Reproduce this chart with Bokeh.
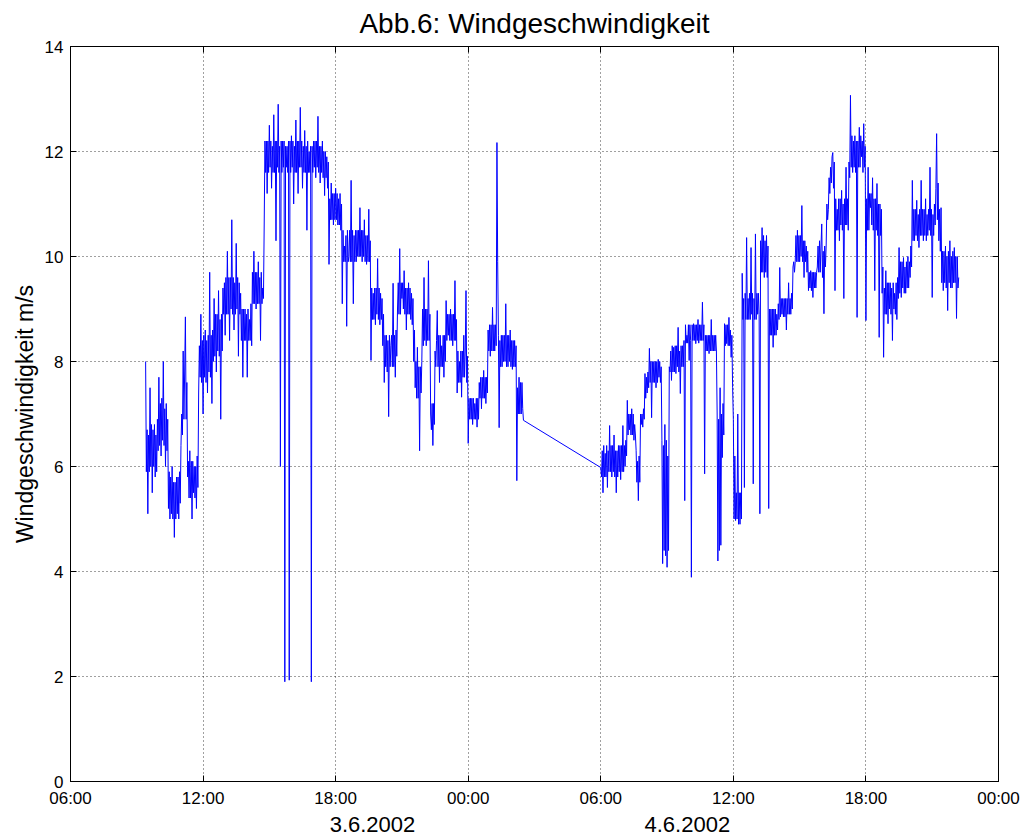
import pandas as pd
from bokeh.plotting import figure
from bokeh.models import (Range1d, FixedTicker, DatetimeTickFormatter, LinearAxis,
                          CustomJSTickFormatter, CustomLabelingPolicy, ColumnDataSource)
from bokeh.embed import file_html
from bokeh.resources import INLINE

title_text = "Abb.6: Windgeschwindigkeit"
y_label = "Windgeschwindigkeit m/s"
date_labels = ["3.6.2002", "4.6.2002"]
date_label_times = ["2002-06-03 19:40", "2002-06-04 09:55"]
y_ticks = [0, 2, 4, 6, 8, 10, 12, 14]

# wind speed samples (m/s), logged every 2 minutes
seg1_start = "2002-06-03 09:24"
speed_seg1 = [
    8.0, 5.9, 6.7, 5.1, 6.6, 5.9, 7.5, 6.0, 6.8, 5.5, 6.7, 6.0,
    6.8, 5.8, 6.6, 5.9, 6.9, 6.3, 7.7, 6.4, 7.2, 6.2, 7.3, 6.5,
    8.0, 6.4, 7.1, 6.0, 7.2, 6.3, 6.9, 5.2, 5.9, 5.0, 5.8, 5.1,
    6.0, 5.0, 5.7, 4.65, 5.7, 5.0, 5.8, 5.1, 5.8, 5.0, 5.9, 5.3,
    6.4, 7.0, 6.6, 8.2, 6.9, 7.8, 8.85, 6.9, 7.6, 5.8, 6.1, 5.4,
    6.3, 5.4, 6.1, 5.0, 6.1, 5.5, 6.0, 5.4, 6.0, 5.2, 6.2, 5.6,
    7.4, 8.3, 7.7, 8.9, 7.6, 8.4, 7.0, 8.5, 7.7, 8.6, 7.6, 8.4,
    7.4, 8.5, 7.8, 9.7, 7.7, 8.5, 7.2, 8.6, 8.0, 9.2, 8.1, 8.9,
    7.8, 8.9, 8.2, 9.35, 8.1, 8.8, 6.9, 8.9, 8.2, 9.4, 8.9, 9.5,
    8.5, 9.6, 8.9, 10.1, 8.9, 9.6, 8.4, 9.6, 9.0, 10.7, 8.9, 9.6,
    8.6, 9.5, 8.9, 10.25, 9.0, 9.6, 8.1, 9.5, 8.9, 9.3, 8.4, 9.0,
    7.7, 9.0, 8.4, 9.0, 8.4, 8.9, 7.7, 9.0, 8.4, 8.8, 8.4, 9.1,
    8.3, 9.7, 9.1, 10.1, 9.1, 9.7, 9.0, 9.7, 9.1, 9.9, 9.1, 9.6,
    8.4, 9.7, 9.1, 9.4, 9.2, 10.6, 12.2, 11.6, 12.2, 11.2, 12.2, 11.6,
    12.5, 11.7, 12.2, 11.3, 12.1, 11.6, 12.7, 11.6, 12.2, 10.3, 12.2, 11.7,
    12.9, 11.6, 12.1, 6.0, 12.2, 11.6, 12.2, 11.7, 12.2, 1.9, 12.1, 11.7,
    12.1, 11.6, 12.2, 1.93, 12.2, 11.6, 12.3, 11.7, 12.2, 11.0, 12.1, 11.6,
    12.6, 11.6, 12.2, 11.2, 12.2, 11.7, 12.84, 11.7, 12.2, 11.3, 12.1, 11.6,
    12.4, 11.6, 12.1, 10.5, 12.2, 11.6, 12.0, 11.6, 12.1, 1.9, 12.1, 11.6,
    12.2, 11.7, 12.2, 11.5, 12.2, 11.7, 12.67, 11.6, 12.1, 11.4, 12.1, 11.6,
    12.2, 11.5, 12.0, 11.16, 12.0, 11.5, 11.9, 11.3, 11.8, 9.85, 11.1, 10.7,
    11.4, 10.7, 11.2, 10.6, 11.2, 10.7, 11.3, 10.7, 11.2, 10.6, 11.1, 10.6,
    11.2, 10.5, 11.0, 9.1, 10.5, 9.9, 10.2, 9.9, 10.4, 8.67, 10.5, 9.9,
    10.0, 10.5, 9.9, 11.45, 9.9, 10.5, 9.1, 10.4, 9.9, 10.5, 9.9, 10.5,
    10.0, 10.5, 10.0, 10.93, 10.0, 10.5, 9.9, 10.5, 10.0, 10.7, 9.9, 10.4,
    9.85, 10.4, 9.9, 10.9, 9.9, 10.3, 8.02, 9.4, 8.8, 9.3, 8.8, 9.4,
    8.7, 9.4, 8.9, 9.96, 8.8, 9.4, 8.7, 9.3, 8.8, 9.2, 8.3, 8.9,
    7.6, 8.5, 7.9, 8.5, 7.8, 8.4, 6.95, 8.5, 7.9, 8.3, 8.5, 7.9,
    9.49, 7.9, 8.5, 7.7, 8.6, 8.1, 9.0, 9.5, 8.9, 10.15, 8.9, 9.5,
    9.2, 9.5, 9.0, 9.73, 8.9, 9.4, 8.6, 9.4, 8.9, 9.5, 8.9, 9.4,
    8.8, 9.3, 8.7, 9.2, 8.0, 8.6, 7.5, 8.0, 7.3, 8.27, 7.3, 7.9,
    6.3, 7.9, 7.4, 8.0, 9.0, 8.3, 9.6, 8.4, 9.0, 8.3, 9.0, 8.4,
    9.92, 8.4, 8.9, 7.0, 6.7, 7.2, 6.4, 7.2, 6.8, 8.2, 7.9, 8.4,
    8.97, 7.9, 8.5, 7.6, 8.5, 7.9, 8.3, 7.9, 8.5, 7.7, 8.5, 8.0,
    9.16, 8.4, 8.9, 8.5, 8.9, 8.4, 9.0, 8.4, 8.9, 8.3, 8.9, 8.4,
    9.54, 8.4, 8.8, 7.4, 8.2, 7.6, 8.0, 7.6, 8.2, 7.32, 8.2, 7.7,
    8.5, 7.7, 8.2, 9.35, 7.6, 8.1, 6.44, 7.3, 6.9, 7.3, 6.9, 7.3,
    6.8, 7.3, 6.9, 7.2, 6.9, 7.3, 6.75, 7.3, 6.9, 7.6, 7.3, 7.7,
    7.1, 7.7, 7.3, 7.83, 7.3, 7.7, 7.2, 7.7, 7.4, 8.6, 8.2, 8.7,
    8.1, 8.7, 8.2, 9.03, 8.2, 8.7, 8.2, 8.7, 8.3, 12.17, 9.9, 8.5,
    6.74, 8.4, 7.9, 8.5, 7.9, 8.5, 8.0, 8.5, 8.0, 9.1, 7.9, 8.5,
    7.9, 8.5, 8.0, 8.6, 7.9, 8.4, 7.85, 8.4, 7.9, 8.4, 7.9, 8.3,
    5.73, 7.5, 7.0, 7.7, 7.0, 7.6, 7.0, 7.6, 7.1, 6.88,
]
seg2_start = "2002-06-04 06:00"
speed_seg2 = [
    5.98, 5.8, 6.3, 5.5, 6.4, 5.8, 6.25, 5.8, 6.4, 5.6, 6.3, 5.9,
    6.78, 5.9, 6.4, 5.8, 6.4, 5.9, 6.6, 5.8, 6.3, 5.5, 6.3, 5.8,
    6.4, 5.9, 6.4, 5.75, 6.4, 5.9, 6.78, 5.9, 6.4, 6.0, 6.5, 6.2,
    7.26, 6.6, 7.0, 6.7, 7.0, 6.6, 7.1, 6.6, 7.0, 6.5, 6.8, 6.6,
    6.3, 5.7, 6.1, 5.35, 6.2, 5.7, 7.0, 6.8, 7.0, 6.75, 7.1, 6.9,
    7.77, 7.3, 7.7, 7.4, 7.8, 7.5, 8.25, 7.6, 8.0, 6.93, 8.0, 7.6,
    8.0, 7.6, 8.0, 7.5, 8.0, 7.6, 8.04, 7.7, 8.0, 7.6, 7.9, 6.5,
    4.15, 6.4, 4.4, 6.8, 4.3, 6.5, 4.08, 6.2, 4.4, 7.9, 7.8, 8.2,
    7.64, 8.3, 7.8, 8.27, 7.8, 8.3, 7.77, 8.3, 7.9, 8.65, 7.8, 8.2,
    7.39, 8.3, 7.9, 8.3, 7.9, 8.4, 5.35, 8.7, 8.35, 8.5, 8.35, 8.7,
    8.02, 8.7, 8.4, 3.89, 8.7, 8.4, 8.72, 8.4, 8.7, 8.34, 8.7, 8.4,
    8.8, 8.35, 8.7, 8.4, 8.7, 8.4, 9.13, 8.4, 8.7, 5.86, 8.5, 8.2,
    8.5, 8.2, 8.5, 8.15, 8.5, 8.2, 8.8, 8.2, 8.5, 8.2, 8.5, 8.2,
    8.5, 8.2, 7.0, 4.2, 6.9, 4.4, 7.5, 4.5, 7.0, 6.17, 7.2, 6.6,
    8.72, 8.3, 8.7, 8.34, 8.7, 8.3, 8.84, 8.3, 8.6, 8.08, 8.5, 7.5,
    6.9, 5.0, 6.2, 4.97, 5.5, 5.0, 7.0, 4.9, 5.5, 4.9, 5.5, 5.0,
    9.68, 8.8, 9.2, 5.6, 9.3, 8.8, 10.36, 8.8, 9.2, 8.8, 9.3, 8.8,
    10.17, 8.9, 9.3, 5.67, 9.2, 8.8, 10.43, 8.8, 9.3, 8.9, 9.3, 8.9,
    5.1, 10.3, 9.7, 10.55, 9.7, 10.4, 9.6, 10.3, 9.7, 10.4, 9.6, 10.2,
    5.2, 9.0, 8.5, 9.0, 8.5, 9.0, 8.27, 9.0, 8.5, 9.0, 8.5, 8.9,
    8.6, 9.1, 8.8, 9.79, 8.85, 9.2, 8.9, 9.2, 8.85, 9.2, 8.85, 9.2,
    8.6, 9.2, 8.9, 9.5, 8.9, 9.2, 8.9, 9.3, 9.0, 9.8, 9.9, 9.7,
    9.9, 10.4, 9.9, 10.5, 9.9, 10.4, 9.9, 10.4, 10.0, 10.97, 9.9, 10.3,
    9.6, 10.3, 9.9, 10.2, 9.7, 10.1, 9.35, 9.7, 9.4, 9.73, 9.35, 9.7,
    9.22, 9.7, 9.4, 9.7, 9.4, 9.7, 9.8, 10.2, 9.7, 10.3, 9.7, 10.2,
    10.62, 9.6, 10.1, 8.91, 10.2, 9.8, 10.2, 11.0, 10.7, 10.9, 11.5, 11.2,
    11.7, 11.4, 11.9, 11.98, 11.3, 11.8, 9.35, 11.1, 10.5, 10.9, 10.5, 11.1,
    10.3, 11.1, 10.6, 11.26, 10.5, 11.0, 9.2, 11.1, 10.6, 11.7, 10.6, 11.1,
    10.5, 11.8, 11.5, 13.07, 11.7, 12.3, 11.6, 12.2, 11.7, 12.3, 11.6, 12.2,
    8.84, 12.2, 11.7, 12.46, 11.7, 12.3, 11.9, 12.2, 11.6, 12.53, 11.7, 12.1,
    8.78, 11.1, 10.5, 11.7, 10.5, 11.2, 10.93, 11.2, 10.6, 11.5, 10.5, 11.1,
    9.35, 11.1, 10.5, 11.39, 10.4, 11.0, 8.46, 11.0, 10.4, 10.9, 9.3, 9.8,
    8.08, 9.4, 8.9, 9.73, 8.9, 9.5, 8.72, 9.5, 9.0, 9.5, 8.9, 9.4,
    8.4, 9.5, 9.0, 9.3, 8.9, 9.5, 8.8, 9.6, 9.2, 10.17, 9.3, 9.9,
    9.22, 9.9, 9.4, 9.98, 9.3, 9.8, 9.3, 9.9, 9.4, 10.0, 9.4, 9.9,
    9.6, 10.2, 9.8, 11.45, 10.3, 10.9, 10.3, 10.9, 10.4, 11.07, 10.3, 10.8,
    10.17, 10.9, 10.4, 11.45, 10.4, 10.9, 10.3, 10.9, 10.4, 11.1, 10.3, 10.8,
    10.4, 10.9, 10.5, 11.7, 10.4, 10.9, 9.22, 10.8, 10.4, 11.0, 10.6, 11.3,
    12.34, 10.7, 11.4, 10.3, 10.9, 10.1, 10.93, 9.5, 10.1, 9.35, 10.1, 9.5,
    10.2, 9.4, 10.0, 8.97, 10.1, 9.5, 10.3, 9.4, 10.0, 9.4, 10.1, 9.5,
    10.17, 9.5, 10.0, 8.82, 10.0, 9.4, 9.6,
]

t1 = pd.date_range(seg1_start, periods=len(speed_seg1), freq="2min")
t2 = pd.date_range(seg2_start, periods=len(speed_seg2), freq="2min")
source = ColumnDataSource(dict(t=t1.append(t2), v=speed_seg1 + speed_seg2))

x_start = pd.Timestamp("2002-06-03 06:00")
x_end = pd.Timestamp("2002-06-05 00:00")
tick_ms = [t.value // 10**6 for t in pd.date_range(x_start, x_end, freq="6h")]
date_ms = [pd.Timestamp(s).value // 10**6 for s in date_label_times]

FONT = "Liberation Sans"

p = figure(width=1025, height=836, x_axis_type="datetime",
           x_range=Range1d(x_start, x_end), y_range=Range1d(0, 14),
           output_backend="svg", toolbar_location=None,
           min_border_left=70, min_border_right=27,
           min_border_top=46, min_border_bottom=55)
p.background_fill_color = "white"
p.border_fill_color = "white"
p.outline_line_color = "black"
p.outline_line_width = 1

p.line("t", "v", source=source, line_color="#0000ff", line_width=1)

# title
p.title.text = title_text
p.title.align = "center"
p.title.text_font = FONT
p.title.text_font_size = "28px"
p.title.text_font_style = "normal"
p.title.text_color = "black"
p.title.offset = 0
p.title.standoff = 8


def style_axis(ax, size="17px"):
    ax.axis_line_color = "black"
    ax.major_tick_line_color = "black"
    ax.major_tick_in = 6
    ax.major_tick_out = 0
    ax.minor_tick_line_color = None
    ax.major_label_text_font = FONT
    ax.major_label_text_color = "black"
    ax.major_label_text_font_size = size


xa = p.xaxis[0]
xa.ticker = FixedTicker(ticks=tick_ms)
xa.formatter = DatetimeTickFormatter(
    minutes="%H:%M", hourmin="%H:%M", hours="%H:%M",
    days="%H:%M", months="%H:%M", years="%H:%M")
style_axis(xa)
xa.major_label_standoff = 7

ya = p.yaxis[0]
ya.ticker = FixedTicker(ticks=y_ticks)
style_axis(ya)
ya.major_label_standoff = 7
ya.axis_label = y_label
ya.axis_label_text_font = FONT
ya.axis_label_text_font_size = "23px"
ya.axis_label_text_font_style = "normal"
ya.axis_label_text_color = "black"
ya.axis_label_standoff = 4

# date labels under the time axis
da = LinearAxis(ticker=FixedTicker(ticks=date_ms),
                formatter=CustomJSTickFormatter(args=dict(labels=date_labels),
                                                code="return labels[index];"))
da.axis_line_color = None
da.major_tick_line_color = None
da.minor_tick_line_color = None
da.major_label_text_font = FONT
da.major_label_text_font_size = "22px"
da.major_label_text_color = "black"
da.major_label_standoff = 0
p.add_layout(da, "below")

# box ticks on top and right (no labels drawn)
for loc, tk in (("above", tick_ms), ("right", y_ticks)):
    ax = LinearAxis(ticker=FixedTicker(ticks=tk),
                    major_label_policy=CustomLabelingPolicy(code="return [];"))
    style_axis(ax, size="1px")
    ax.major_label_standoff = 0
    p.add_layout(ax, loc)

for g, tk in ((p.xgrid, tick_ms), (p.ygrid, y_ticks)):
    g.ticker = FixedTicker(ticks=tk)
    g.grid_line_color = "black"
    g.grid_line_dash = "1 3"
    g.grid_line_alpha = 0.75

open("out.html", "w").write(file_html(p, INLINE))
